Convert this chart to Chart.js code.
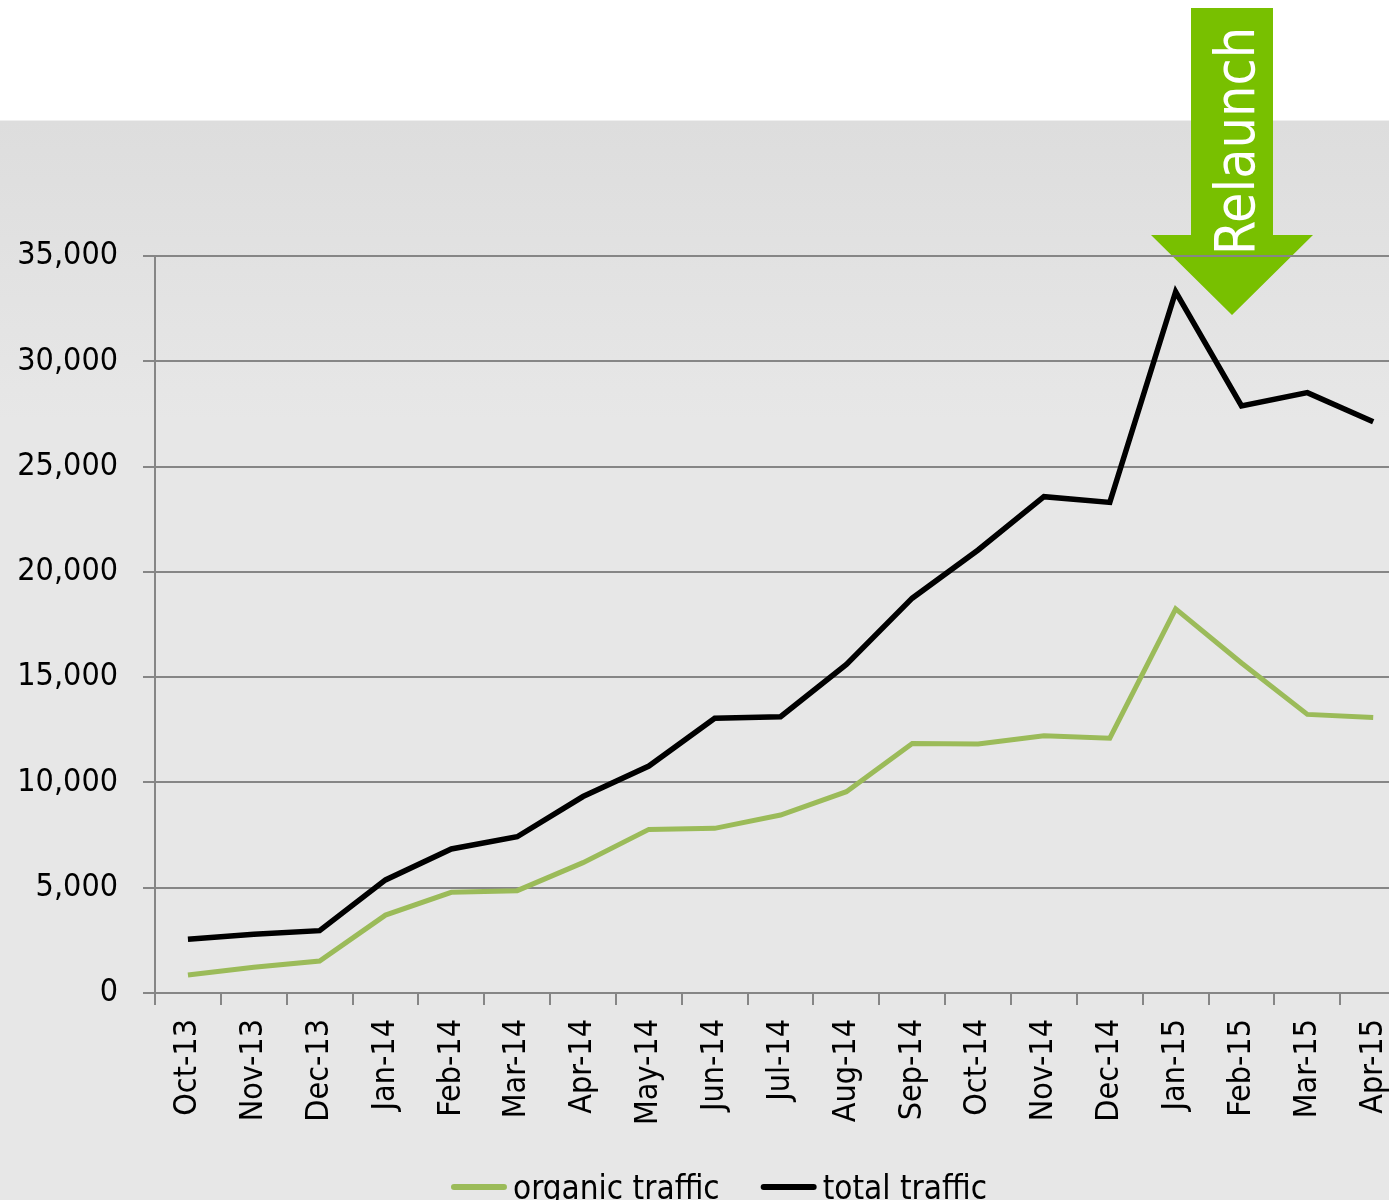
<!DOCTYPE html>
<html><head><meta charset="utf-8">
<script src="https://cdn.jsdelivr.net/npm/chart.js@4.4.1/dist/chart.umd.min.js"></script>
<style>
html,body{margin:0;padding:0;background:#fff;overflow:hidden;width:1389px;height:1200px;}
#wrap{position:relative;width:1426px;height:1200px;}
canvas{display:block;}
</style></head><body>
<div id="wrap"><canvas id="c" width="1426" height="1200"></canvas></div>
<script>
const categories = ['Oct-13','Nov-13','Dec-13','Jan-14','Feb-14','Mar-14','Apr-14','May-14','Jun-14','Jul-14','Aug-14','Sep-14','Oct-14','Nov-14','Dec-14','Jan-15','Feb-15','Mar-15','Apr-15'];
const organicTraffic = [855,1220,1520,3700,4780,4860,6190,7770,7820,8450,9560,11850,11830,12220,12100,18240,15670,13230,13080];
const totalTraffic = [2550,2790,2960,5370,6840,7420,9330,10780,13050,13120,15600,18750,21040,23570,23300,33300,27880,28510,27130];
const seriesNames = ['organic traffic','total traffic'];
const seriesColors = ['#9BBB59','#000000'];
const yMin = 0, yMax = 35000, yStep = 5000;
const annotationText = 'Relaunch';

const bgPlugin = {
  id:'bg',
  beforeDraw(chart){
    const ctx = chart.ctx;
    ctx.save();
    ctx.fillStyle = '#ffffff';
    ctx.fillRect(0,0,chart.width,chart.height);
    const g = ctx.createLinearGradient(0,121,0,420);
    g.addColorStop(0,'#dddddd');
    g.addColorStop(1,'#e7e7e7');
    ctx.fillStyle = g;
    ctx.fillRect(0,121,chart.width,chart.height-121);
    ctx.fillStyle = '#efefef';
    ctx.fillRect(0,120,chart.width,1);
    // arrow
    ctx.fillStyle = '#78C000';
    ctx.beginPath();
    ctx.moveTo(1191,8);
    ctx.lineTo(1273,8);
    ctx.lineTo(1273,235);
    ctx.lineTo(1313,235);
    ctx.lineTo(1232,315);
    ctx.lineTo(1151,235);
    ctx.lineTo(1191,235);
    ctx.closePath();
    ctx.fill();
    // label, reading bottom-to-top
    let size = 54;
    ctx.font = size + 'px "DejaVu Sans Condensed", "DejaVu Sans"';
    const w = ctx.measureText(annotationText).width;
    size = size * 228 / w;
    ctx.font = size.toFixed(1) + 'px "DejaVu Sans Condensed", "DejaVu Sans"';
    ctx.translate(1254,255);
    ctx.rotate(-Math.PI/2);
    ctx.fillStyle = '#ffffff';
    ctx.textAlign = 'left';
    ctx.textBaseline = 'alphabetic';
    ctx.fillText(annotationText,0,0);
    ctx.restore();
  },
  afterDraw(chart){
    const ctx = chart.ctx;
    ctx.save();
    ctx.font = '33px "DejaVu Sans Condensed", "DejaVu Sans"';
    ctx.textBaseline = 'alphabetic';
    ctx.textAlign = 'left';
    const lineW = 56, gap = 6, spacing = 41;
    const ds = chart.data.datasets;
    let total = 0;
    ds.forEach((d,i)=>{ total += lineW + gap + ctx.measureText(d.label).width + (i<ds.length-1?spacing:0); });
    let x = 719 - total/2;
    ds.forEach((d,i)=>{
      ctx.strokeStyle = d.borderColor;
      ctx.lineWidth = 6;
      ctx.lineCap = 'round';
      ctx.beginPath();
      ctx.moveTo(x+3,1187);
      ctx.lineTo(x+lineW-3,1187);
      ctx.stroke();
      x += lineW + gap;
      ctx.fillStyle = '#000';
      ctx.fillText(d.label,x,1199);
      x += ctx.measureText(d.label).width + spacing;
    });
    ctx.restore();
  }
};

const tickFont = {family:'"DejaVu Sans Condensed", "DejaVu Sans"', size:32};
new Chart(document.getElementById('c'),{
  type:'line',
  data:{
    labels:categories,
    datasets:[
      {label:seriesNames[0], data:organicTraffic, borderColor:seriesColors[0], borderWidth:5, pointRadius:0, tension:0, fill:false, borderJoinStyle:'miter'},
      {label:seriesNames[1], data:totalTraffic, borderColor:seriesColors[1], borderWidth:5.5, pointRadius:0, tension:0, fill:false, borderJoinStyle:'miter'}
    ]
  },
  options:{
    responsive:false,
    animation:false,
    devicePixelRatio:1,
    layout:{padding:{top:256,right:15,bottom:0,left:0}},
    plugins:{legend:{display:false}, tooltip:{enabled:false}},
    scales:{
      x:{
        offset:true,
        grid:{offset:true, drawOnChartArea:false, drawTicks:true, tickLength:12, color:'#868686', lineWidth:2},
        border:{display:true, color:'#868686', width:2},
        ticks:{autoSkip:false, maxRotation:90, minRotation:90, padding:14, color:'#000', font:tickFont},
        afterFit(s){ s.height = 207; }
      },
      y:{
        min:yMin, max:yMax,
        grid:{color:'#868686', lineWidth:2, tickLength:12, drawTicks:true},
        border:{display:true, color:'#868686', width:2},
        ticks:{stepSize:yStep, padding:25, color:'#000', font:tickFont, callback:v=>v.toLocaleString('en-US')},
        afterFit(s){ s.width = 155; }
      }
    }
  },
  plugins:[bgPlugin]
});
</script>
</body></html>
